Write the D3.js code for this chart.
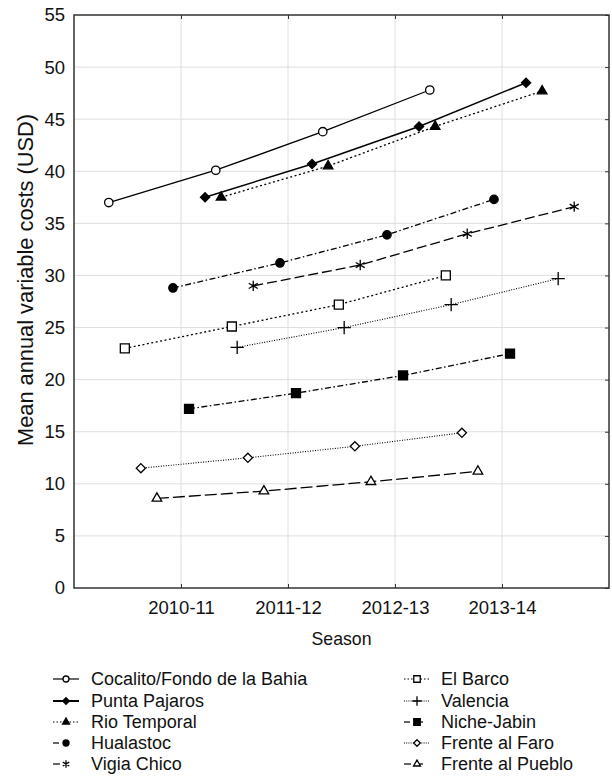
<!DOCTYPE html>
<html><head><meta charset="utf-8">
<script src="https://cdn.jsdelivr.net/npm/d3@7"></script>
<style>body{margin:0;background:#fff;}</style></head>
<body><svg id="chart" width="612" height="776" font-family="'Liberation Sans', Arial, sans-serif"></svg>
<script>
// ---- data ----
const seasons = ["2010-11","2011-12","2012-13","2013-14"];
const yTicks = [0,5,10,15,20,25,30,35,40,45,50,55];
const seriesNames = ["Cocalito/Fondo de la Bahia","Punta Pajaros","Rio Temporal","Hualastoc","Vigia Chico",
                     "El Barco","Valencia","Niche-Jabin","Frente al Faro","Frente al Pueblo"];
const cocalito   = [37.0, 40.1, 43.8, 47.8];
const punta      = [37.5, 40.7, 44.3, 48.5];
const rio        = [37.5, 40.5, 44.3, 47.7];
const hualastoc  = [28.8, 31.2, 33.9, 37.3];
const vigia      = [29.0, 31.0, 34.0, 36.6];
const elBarco    = [23.0, 25.1, 27.2, 30.0];
const valencia   = [23.1, 25.0, 27.2, 29.7];
const niche      = [17.2, 18.7, 20.4, 22.5];
const faro       = [11.5, 12.5, 13.6, 14.9];
const pueblo     = [ 8.6,  9.3, 10.2, 11.2];
const seriesValues = [cocalito,punta,rio,hualastoc,vigia,elBarco,valencia,niche,faro,pueblo];

// ---- styles (position jitter within season, line dash, marker) ----
const styles = [
  {off:-0.675, dash:null,            sym:"circle",   fill:false, lw:1.3},
  {off: 0.225, dash:null,            sym:"diamond",  fill:true,  lw:1.5},
  {off: 0.375, dash:"2,2.5",         sym:"triangle", fill:true,  lw:1.3},
  {off:-0.075, dash:"6,2.5,1.5,2.5", sym:"circle",   fill:true,  lw:1.3},
  {off: 0.675, dash:"10,4",          sym:"asterisk", fill:false, lw:1.3},
  {off:-0.525, dash:"2,2.5",         sym:"square",   fill:false, lw:1.3},
  {off: 0.525, dash:"1,1.5",         sym:"plus",     fill:false, lw:1.1},
  {off: 0.075, dash:"6,2.5,1.5,2.5", sym:"square",   fill:true,  lw:1.3},
  {off:-0.375, dash:"1,1.5",         sym:"diamond",  fill:false, lw:1.1},
  {off:-0.225, dash:"12,4",          sym:"triangle", fill:false, lw:1.3}
];
// legend stub dashes: [left, right]
const legendStub = [
  [null,null],[null,null],["1.5,2","1.5,2"],["6,9",null],["7,9",null],
  ["1.5,2","1.5,2"],["1,1.2","1,1.2"],["6,9","6,9"],["1,1.2","1,1.2"],["7,9","6,9"]
];

const svg = d3.select("#chart");
const L=74, R=609, T=15, B=588;
const x = d3.scaleLinear().domain([0,5]).range([L,R]);
const y = d3.scaleLinear().domain([0,55]).range([B,T]);

// grid
const g = svg.append("g");
g.selectAll(".gy").data(yTicks.slice(1,-1)).join("line")
  .attr("x1",L).attr("x2",R).attr("y1",d=>y(d)).attr("y2",d=>y(d))
  .attr("stroke","#dedede").attr("stroke-width",1);
g.selectAll(".gx").data(seasons).join("line")
  .attr("x1",(d,i)=>x(i+1)).attr("x2",(d,i)=>x(i+1)).attr("y1",T).attr("y2",B)
  .attr("stroke","#dedede").attr("stroke-width",1);

// axes (ticks inward)
const yAxisL = d3.axisLeft(y).tickValues(yTicks).tickSize(0).tickPadding(9);
const yAxisR = d3.axisRight(y).tickValues(yTicks).tickSize(-4).tickFormat("");
const xAxisB = d3.axisBottom(x).tickValues([1,2,3,4]).tickSize(-4).tickPadding(13).tickFormat(d=>seasons[d-1]);
const xAxisT = d3.axisTop(x).tickValues([1,2,3,4]).tickSize(-4).tickFormat("");
function styleAxis(sel){
  sel.select(".domain").remove();
  sel.attr("font-family",null);
  sel.selectAll("line").attr("stroke","#333").attr("stroke-width",1);
  sel.selectAll("text").attr("font-size","18.5px").attr("fill","#111");
}
svg.append("g").attr("transform",`translate(${L},0)`).call(yAxisL).call(styleAxis);
svg.append("g").attr("transform",`translate(${R},0)`).call(yAxisR).call(styleAxis);
svg.append("g").attr("transform",`translate(0,${B})`).call(xAxisB).call(styleAxis);
svg.append("g").attr("transform",`translate(0,${T})`).call(xAxisT).call(styleAxis);

svg.append("rect").attr("x",L).attr("y",T).attr("width",R-L).attr("height",B-T)
  .attr("fill","none").attr("stroke","#333").attr("stroke-width",1.5);

// titles
svg.append("text").attr("x",(L+R)/2).attr("y",645).attr("text-anchor","middle")
  .attr("font-size","17.7px").attr("fill","#111").text("Season");
svg.append("text").attr("transform",`translate(33,280) rotate(-90)`)
  .attr("text-anchor","middle").attr("font-size","21.8px").attr("fill","#111")
  .text("Mean annual variable costs (USD)");

// marker generator
function markerPath(sym, s){
  if(sym==="circle") return d3.symbol(d3.symbolCircle, Math.PI*Math.pow(4.2*s,2))();
  if(sym==="square") return d3.symbol(d3.symbolSquare, Math.pow(9*s,2))();
  if(sym==="triangle") return d3.symbol(d3.symbolTriangle, 40*s*s)();
  if(sym==="diamond"){ const r=4.6*s; return `M0,${-r}L${r},0L0,${r}L${-r},0Z`; }
  if(sym==="asterisk") return d3.symbol(d3.symbolAsterisk, 75*s*s)();
  if(sym==="plus") return d3.symbol(d3.symbolPlus, 60*s*s)();
}
function drawMarker(sel, st, s){
  const stroked = st.sym==="asterisk"||st.sym==="plus";
  sel.attr("d", markerPath(st.sym, s))
    .attr("fill", stroked ? "none" : (st.fill ? "#000" : "#fff"))
    .attr("stroke","#000").attr("stroke-width", 1.3);
}

const line = d3.line().x(d=>x(d.x)).y(d=>y(d.v));

seriesValues.forEach((vals,k)=>{
  const st = styles[k];
  const pts = vals.map((v,i)=>({x:i+1+st.off, v}));
  svg.append("path").datum(pts).attr("d",line).attr("fill","none")
    .attr("stroke","#000").attr("stroke-width",st.lw)
    .attr("stroke-dasharray",st.dash);
  svg.append("g").selectAll("path").data(pts).join("path")
    .attr("transform",d=>`translate(${x(d.x)},${y(d.v)})`)
    .call(sel=>drawMarker(sel,st,1));
});

// legend
const legX=[66,417], legTxt=[91,441], rowY=[679,701,722,743,764];
seriesNames.forEach((name,k)=>{
  const col = k<5?0:1, row=k%5;
  const cx=legX[col], cy=rowY[row];
  const lg = svg.append("g");
  const [dl, dr] = legendStub[k];
  const lw = k===1?2:1.2;
  lg.append("line").attr("x1",cx-13).attr("x2",cx).attr("y1",cy).attr("y2",cy)
    .attr("stroke","#000").attr("stroke-width",lw).attr("stroke-dasharray",dl);
  if(!(k===3||k===4)){
    lg.append("line").attr("x1",cx).attr("x2",cx+13).attr("y1",cy).attr("y2",cy)
      .attr("stroke","#000").attr("stroke-width",lw).attr("stroke-dasharray",dr);
  }
  lg.append("path").attr("transform",`translate(${cx},${cy})`).call(sel=>drawMarker(sel,styles[k],0.72));
  lg.append("text").attr("x",legTxt[col]).attr("y",cy).attr("dy","0.36em")
    .attr("font-size","18px").attr("fill","#111").text(name);
});
</script></body></html>
